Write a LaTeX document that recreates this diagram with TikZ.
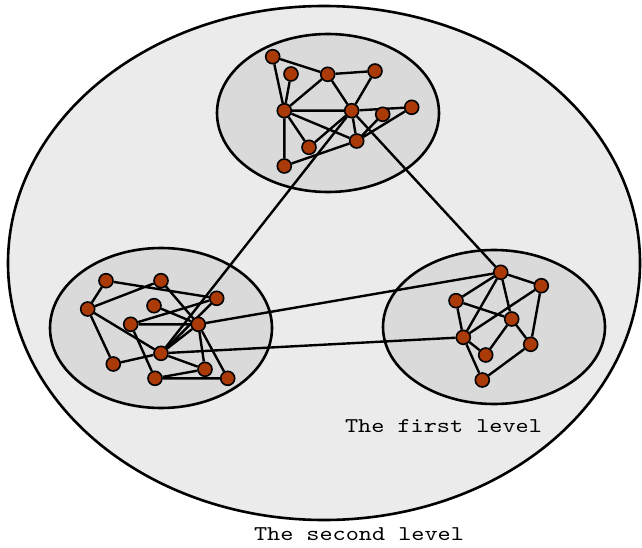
\documentclass[tikz,border=0pt]{standalone}
\usepackage{fontspec}
\newfontfamily\levelfont[FakeStretch=1.19]{lmmono10-regular.otf}
\usepackage{xcolor}
\usepackage{tikz}
\usetikzlibrary{positioning}

\definecolor{vertexred}{RGB}{170,58,8}
\definecolor{outergray}{RGB}{235,235,235}
\definecolor{innergray}{RGB}{218,218,218}

\pgfdeclarelayer{back}
\pgfdeclarelayer{edges}
\pgfsetlayers{back,edges,main}

\begin{document}
\begin{tikzpicture}[
  x=1pt, y=-1pt,
  vertex/.style={circle, draw=black, line width=1.6pt, fill=vertexred, minimum size=14pt, inner sep=0pt},
  link/.style={draw=black, line width=2.4pt},
  level/.style={draw=black, line width=2.6pt},
  caption/.style={font=\levelfont\fontsize{21}{24}\selectfont, anchor=base, inner sep=0pt}
]
  \useasboundingbox (0,0) rectangle (642,548);

  % top cluster
  \node[vertex] (a1) at (272.7,56.7) {};
  \node[vertex] (a2) at (291,74) {};
  \node[vertex] (a3) at (327.7,74.3) {};
  \node[vertex] (a4) at (375,71) {};
  \node[vertex] (a5) at (284.3,110.7) {};
  \node[vertex] (a6) at (351.7,110.7) {};
  \node[vertex] (a7) at (382.7,114.3) {};
  \node[vertex] (a8) at (411.7,107.3) {};
  \node[vertex] (a9) at (309,147.3) {};
  \node[vertex] (a10) at (356.7,141) {};
  \node[vertex] (a11) at (284.3,166) {};

  % bottom left cluster
  \node[vertex] (b1) at (106,280.7) {};
  \node[vertex] (b2) at (161,280.7) {};
  \node[vertex] (b3) at (87.7,309) {};
  \node[vertex] (b4) at (154,305.7) {};
  \node[vertex] (b5) at (216.7,298.3) {};
  \node[vertex] (b6) at (130.7,324.3) {};
  \node[vertex] (b7) at (198.3,324.3) {};
  \node[vertex] (b8) at (161,353.3) {};
  \node[vertex] (b9) at (113.3,364) {};
  \node[vertex] (b10) at (205,369.3) {};
  \node[vertex] (b11) at (155,378.3) {};
  \node[vertex] (b12) at (227.7,378.3) {};

  % right cluster
  \node[vertex] (c1) at (500.7,272.3) {};
  \node[vertex] (c2) at (541.3,285.7) {};
  \node[vertex] (c3) at (456,300.7) {};
  \node[vertex] (c4) at (511.7,319) {};
  \node[vertex] (c5) at (463.3,337.3) {};
  \node[vertex] (c6) at (530.7,344.3) {};
  \node[vertex] (c7) at (485.7,355) {};
  \node[vertex] (c8) at (482.3,380) {};

  \node[caption] (first) at (443.5,432) {The first level};
  \node[caption] (second) at (359,540) {The second level};

  \begin{pgfonlayer}{back}
    \draw[level, fill=outergray] (324,263) ellipse [x radius=316pt, y radius=257pt];
    \draw[level, fill=innergray] (328,113) ellipse [x radius=111pt, y radius=79pt];
    \draw[level, fill=innergray] (161,328) ellipse [x radius=111pt, y radius=80pt];
    \draw[level, fill=innergray] (494,327) ellipse [x radius=111pt, y radius=77pt];
  \end{pgfonlayer}

  \begin{pgfonlayer}{edges}
    % top
    \draw[link] (a1) -- (a3) (a1) -- (a5) (a2) -- (a5) (a3) -- (a4);
    \draw[link] (a3) -- (a5) (a3) -- (a6) (a4) -- (a6) (a5) -- (a6);
    \draw[link] (a5) -- (a9) (a5) -- (a10) (a5) -- (a11) (a6) -- (a8);
    \draw[link] (a6) -- (a9) (a6) -- (a10) (a10) -- (a7) (a10) -- (a8);
    \draw[link] (a11) -- (a10);
    % bottom left
    \draw[link] (b1) -- (b3) (b1) -- (b5) (b2) -- (b3) (b2) -- (b7);
    \draw[link] (b3) -- (b8) (b3) -- (b9) (b4) -- (b7) (b6) -- (b5);
    \draw[link] (b6) -- (b7) (b6) -- (b11) (b7) -- (b10) (b7) -- (b12);
    \draw[link] (b7) -- (b8) (b8) -- (b9) (b8) -- (b10) (b8) -- (b5);
    \draw[link] (b11) -- (b12) (b11) -- (b10);
    % right
    \draw[link] (c1) -- (c3) (c1) -- (c5) (c1) -- (c4) (c1) -- (c2);
    \draw[link] (c2) -- (c5) (c2) -- (c6) (c3) -- (c4) (c3) -- (c5);
    \draw[link] (c4) -- (c7) (c4) -- (c6) (c5) -- (c7) (c5) -- (c8);
    \draw[link] (c8) -- (c6);
    % between clusters
    \draw[link] (a6) -- (b8) (a6) -- (c1) (b7) -- (c1) (b8) -- (c5);
  \end{pgfonlayer}
\end{tikzpicture}
\end{document}
